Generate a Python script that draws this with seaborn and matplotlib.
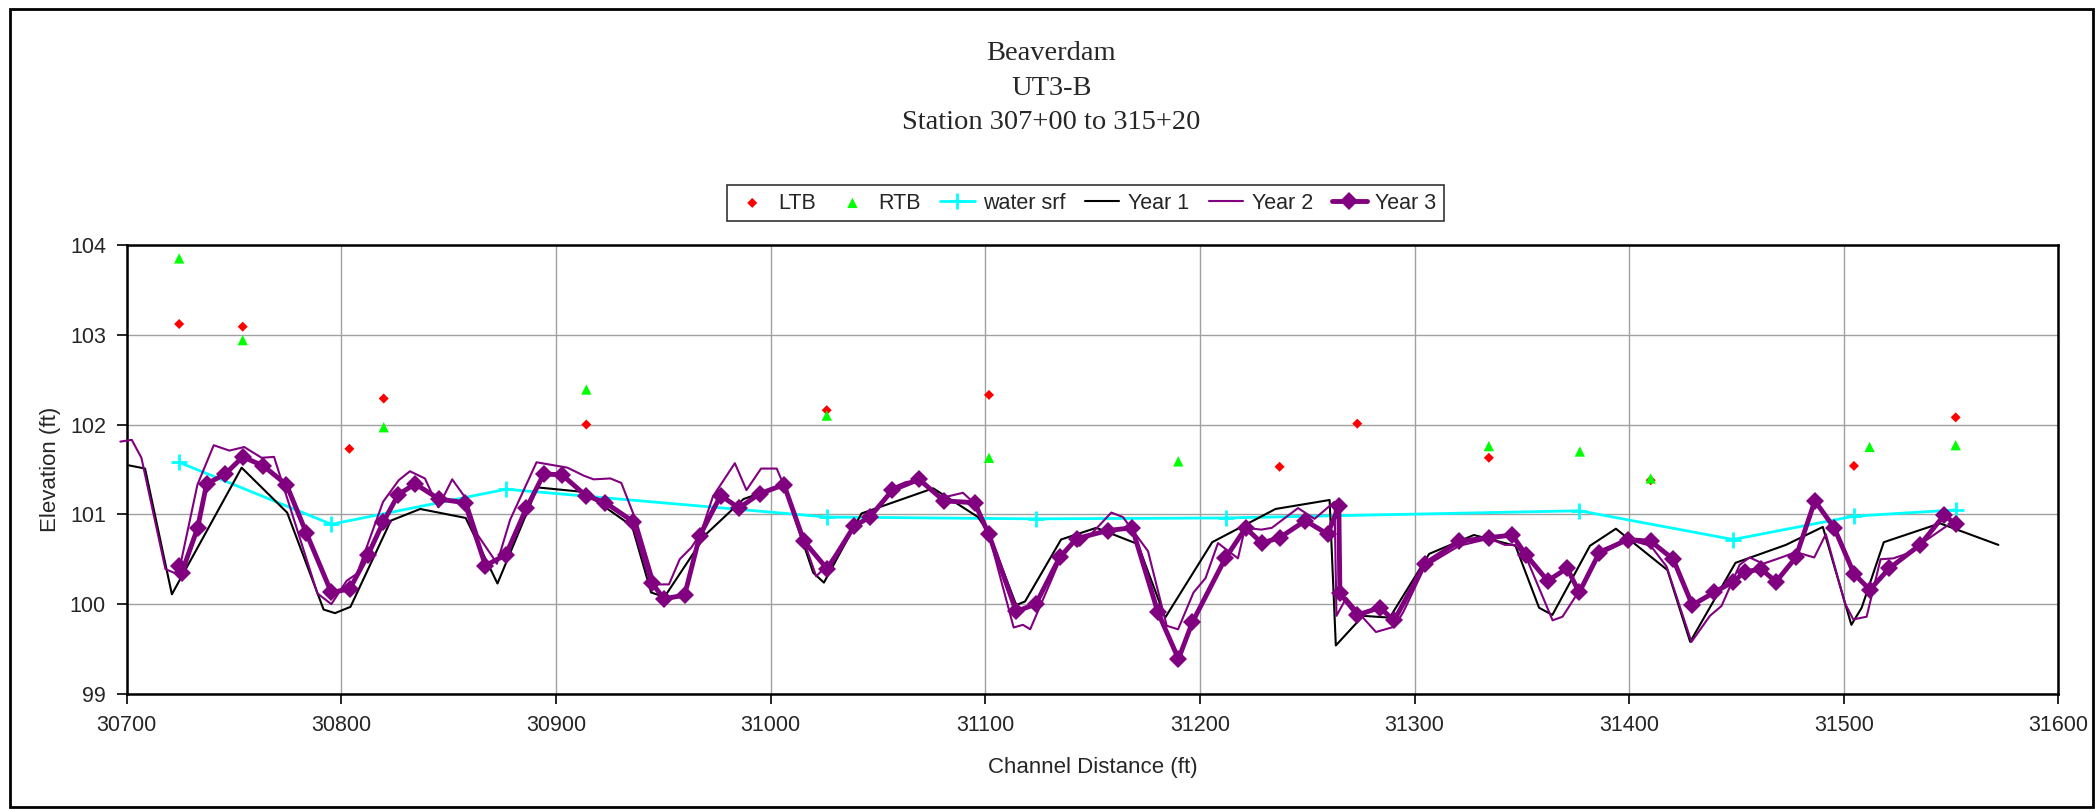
import matplotlib
matplotlib.use("Agg")
import matplotlib.pyplot as plt
import seaborn as sns
from matplotlib.patches import Rectangle

# data
ltb_x = [30724.4, 30754.0, 30803.7, 30819.7, 30914.1, 31026.1, 31101.7, 31237.1, 31273.3, 31334.6, 31410.0, 31504.7, 31552.1]
ltb_y = [103.12, 103.09, 101.73, 102.29, 102.00, 102.16, 102.33, 101.53, 102.01, 101.63, 101.38, 101.54, 102.08]

rtb_x = [30724.4, 30754.0, 30819.7, 30914.1, 31026.1, 31101.7, 31189.9, 31334.6, 31377.0, 31410.0, 31512.0, 31552.1]
rtb_y = [103.85, 102.94, 101.97, 102.39, 102.10, 101.63, 101.59, 101.76, 101.70, 101.40, 101.75, 101.77]

water_x = [30724.3, 30795.3, 30876.8, 31026.3, 31123.4, 31212.0, 31376.8, 31448.4, 31504.8, 31552.3]
water_y = [101.58, 100.89, 101.28, 100.97, 100.95, 100.96, 101.04, 100.72, 100.98, 101.05]

year1_x = [30700, 30708.5, 30721, 30753.5, 30774.7, 30791.7, 30797, 30804.2, 30823, 30836.7,
           30857.9, 30872.7, 30891.3, 30912.7, 30935.4, 30944.3, 30950.5, 30969.9, 30987.3, 31006,
           31019.8, 31024.8, 31042.3, 31075.7, 31096.6, 31101.8, 31114.4, 31118.5, 31135.3, 31151.7,
           31171, 31183.8, 31205.7, 31235.2, 31260.4, 31263.3, 31276, 31288.4, 31306.8, 31327.6,
           31347, 31358, 31364.2, 31381.7, 31393.8, 31417.8, 31428.4, 31449.5, 31473, 31490.2,
           31503.5, 31508.3, 31518.6, 31544.8, 31572]
year1_y = [101.55, 101.51, 100.11, 101.52, 101.02, 99.94, 99.90, 99.97, 100.93, 101.06,
           100.96, 100.23, 101.30, 101.25, 100.87, 100.13, 100.08, 100.78, 101.17, 101.33,
           100.35, 100.24, 101.01, 101.29, 100.97, 100.78, 99.99, 100.03, 100.72, 100.85,
           100.67, 99.85, 100.69, 101.06, 101.16, 99.54, 99.87, 99.85, 100.56, 100.77,
           100.65, 99.96, 99.88, 100.65, 100.84, 100.38, 99.58, 100.46, 100.66, 100.86,
           99.77, 99.96, 100.69, 100.90, 100.66]

year2_x = [30697, 30702.3, 30706.8, 30718, 30724, 30732.9, 30740.5, 30747.8, 30754.7, 30762.8,
           30768.6, 30788.8, 30795.3, 30802.4, 30807.3, 30819.4, 30826.7, 30831.9, 30838.9, 30845.1,
           30851.6, 30857.9, 30863.5, 30870.6, 30872.4, 30878.6, 30890.9, 30905.3, 30913, 30917.5,
           30925.3, 30930.4, 30937.4, 30945.2, 30947.5, 30952.6, 30957.6, 30963, 30967.4, 30973.1,
           30983.3, 30988.7, 30995.5, 31002.8, 31006.2, 31015.5, 31021.2, 31027, 31039, 31046,
           31057, 31063, 31069, 31079, 31089.6, 31095, 31101.6, 31113.2, 31117.5, 31120.9,
           31134, 31140.8, 31143.9, 31148.5, 31158.7, 31164.1, 31175.8, 31184.5, 31189.8, 31197,
           31202.6, 31208.4, 31217.7, 31221, 31228.6, 31233.5, 31245.7, 31253.4, 31262.7, 31263.6,
           31268.2, 31276.7, 31282, 31290.7, 31294.9, 31304.8, 31320.8, 31334.8, 31342.1, 31346.7,
           31352, 31364.3, 31368.9, 31377, 31386.3, 31399.2, 31410, 31417.4, 31429, 31437.6,
           31443, 31451.5, 31456.1, 31462.4, 31470.9, 31477.6, 31486.2, 31491.6, 31500.5, 31504.4,
           31510.6, 31517.1, 31523, 31529.2, 31547.9]
year2_y = [101.81, 101.83, 101.63, 100.39, 100.33, 101.33, 101.77, 101.71, 101.75, 101.63,
           101.64, 100.12, 100.00, 100.26, 100.34, 101.14, 101.38, 101.48, 101.40, 101.08,
           101.39, 101.18, 100.77, 100.52, 100.45, 100.94, 101.58, 101.52, 101.43, 101.39,
           101.40, 101.35, 100.92, 100.29, 100.22, 100.22, 100.50, 100.63, 100.79, 101.20,
           101.57, 101.27, 101.51, 101.51, 101.32, 100.70, 100.31, 100.45, 100.85, 100.96,
           101.30, 101.36, 101.38, 101.18, 101.24, 101.12, 100.78, 99.74, 99.77, 99.72,
           100.45, 100.70, 100.65, 100.76, 101.02, 100.97, 100.59, 99.76, 99.72, 100.13,
           100.29, 100.68, 100.51, 100.85, 100.83, 100.85, 101.07, 100.95, 101.14, 99.87,
           100.07, 99.83, 99.69, 99.75, 99.92, 100.42, 100.65, 100.73, 100.66, 100.66,
           100.52, 99.82, 99.86, 100.16, 100.60, 100.72, 100.65, 100.42, 99.58, 99.87,
           99.98, 100.44, 100.52, 100.45, 100.52, 100.58, 100.52, 100.78, 100.01, 99.83,
           99.86, 100.50, 100.51, 100.56, 100.87]

year3_x = [30724.4, 30725.6, 30733.0, 30737.2, 30745.9, 30754.0, 30763.6, 30774.4, 30783.7, 30795.3,
           30803.9, 30812.4, 30819.4, 30826.5, 30834.3, 30845.5, 30857.5, 30867.1, 30876.6, 30886.2,
           30894.3, 30902.8, 30913.8, 30923.0, 30935.9, 30944.6, 30950.2, 30959.9, 30966.9, 30976.7,
           30985.2, 30994.8, 31006.2, 31015.5, 31026.4, 31038.9, 31046.2, 31056.7, 31069.1, 31080.8,
           31095.0, 31101.6, 31114.4, 31123.5, 31134.6, 31142.5, 31157.0, 31168.4, 31180.4, 31190.0,
           31196.5, 31211.8, 31221.3, 31228.8, 31237.1, 31249.1, 31259.5, 31264.7, 31265.2, 31273.4,
           31283.7, 31290.5, 31304.8, 31320.8, 31334.7, 31345.5, 31351.9, 31362.0, 31371.1, 31376.7,
           31386.0, 31399.2, 31410.1, 31420.5, 31429.4, 31439.5, 31448.4, 31453.8, 31461.5, 31468.4,
           31477.6, 31486.5, 31495.5, 31504.7, 31512.1, 31521.2, 31535.5, 31546.7, 31552.3]
year3_y = [100.43, 100.35, 100.85, 101.34, 101.45, 101.64, 101.54, 101.33, 100.79, 100.13,
           100.17, 100.55, 100.91, 101.22, 101.34, 101.17, 101.13, 100.43, 100.55, 101.07,
           101.45, 101.44, 101.21, 101.13, 100.92, 100.24, 100.06, 100.10, 100.76, 101.21,
           101.07, 101.23, 101.33, 100.70, 100.39, 100.87, 100.97, 101.27, 101.39, 101.15,
           101.13, 100.78, 99.92, 100.00, 100.52, 100.73, 100.82, 100.85, 99.91, 99.39,
           99.80, 100.51, 100.85, 100.68, 100.74, 100.93, 100.78, 101.09, 100.12, 99.88,
           99.96, 99.82, 100.45, 100.70, 100.74, 100.77, 100.55, 100.26, 100.40, 100.13,
           100.57, 100.72, 100.70, 100.50, 99.99, 100.13, 100.25, 100.36, 100.39, 100.25,
           100.52, 101.15, 100.85, 100.34, 100.16, 100.40, 100.66, 100.99, 100.89]

x_ticks = [30700, 30800, 30900, 31000, 31100, 31200, 31300, 31400, 31500, 31600]
y_ticks = [99, 100, 101, 102, 103, 104]

sns.set_style("white")
plt.rcParams["font.family"] = ["Liberation Sans", "DejaVu Sans"]

fig = plt.figure(figsize=(20.96, 8.09), dpi=100)
ax = fig.add_axes([0.0605, 0.1422, 0.9216, 0.555])

sns.scatterplot(x=ltb_x, y=ltb_y, marker="D", s=26, color="#ff0000", edgecolor="none", label="LTB", ax=ax, zorder=3)
sns.scatterplot(x=rtb_x, y=rtb_y, marker="^", s=55, color="#00ff00", edgecolor="none", label="RTB", ax=ax, zorder=3)
sns.lineplot(x=water_x, y=water_y, sort=False, estimator=None, color="#00ffff", linewidth=2,
             marker="+", markersize=12, markeredgewidth=2, markeredgecolor="#00ffff",
             label="water srf", ax=ax, zorder=4)
sns.lineplot(x=year1_x, y=year1_y, sort=False, estimator=None, color="black", linewidth=1.5,
             label="Year 1", ax=ax, zorder=5)
sns.lineplot(x=year2_x, y=year2_y, sort=False, estimator=None, color="#800080", linewidth=1.5,
             label="Year 2", ax=ax, zorder=6, clip_on=False)
sns.lineplot(x=year3_x, y=year3_y, sort=False, estimator=None, color="#800080", linewidth=3.5,
             marker="D", markersize=9, markeredgewidth=0, label="Year 3", ax=ax, zorder=7)

ax.set_xlim(30700, 31600)
ax.set_ylim(99, 104)
ax.set_xticks(x_ticks)
ax.set_yticks(y_ticks)
ax.grid(True, color="#a0a0a0", linewidth=1)
ax.set_axisbelow(True)
for s in ax.spines.values():
    s.set_visible(True)
    s.set_color("black")
    s.set_linewidth(1.8)
ax.tick_params(axis="both", direction="out", length=7, width=1.2, color="black",
               labelsize=15.5, pad=8, bottom=True, left=True)

ax.set_xlabel("Channel Distance (ft)", fontsize=16)
ax.set_ylabel("Elevation (ft)", fontsize=16)
ax.xaxis.set_label_coords(0.5, -0.14)
ax.yaxis.set_label_coords(-0.034, 0.5)

fig.text(0.5015, 0.891, "Beaverdam\nUT3-B\nStation 307+00 to 315+20", ha="center", va="center",
         fontsize=20.5, family=["Liberation Serif", "DejaVu Serif"], linespacing=1.5)

leg = ax.legend(loc="center", bbox_to_anchor=(0.518, 0.749), bbox_transform=fig.transFigure,
                ncol=6, fontsize=15.5, frameon=True, fancybox=False, edgecolor="black",
                handlelength=1.6, handletextpad=0.4, columnspacing=0.9, borderpad=0.35,
                scatterpoints=1)
leg.get_frame().set_linewidth(1.2)

fig.add_artist(Rectangle((10 / 2096, 2 / 809), 2083 / 2096, 798 / 809, transform=fig.transFigure,
                         fill=False, edgecolor="black", linewidth=2))

fig.savefig("out.png", dpi=100)
